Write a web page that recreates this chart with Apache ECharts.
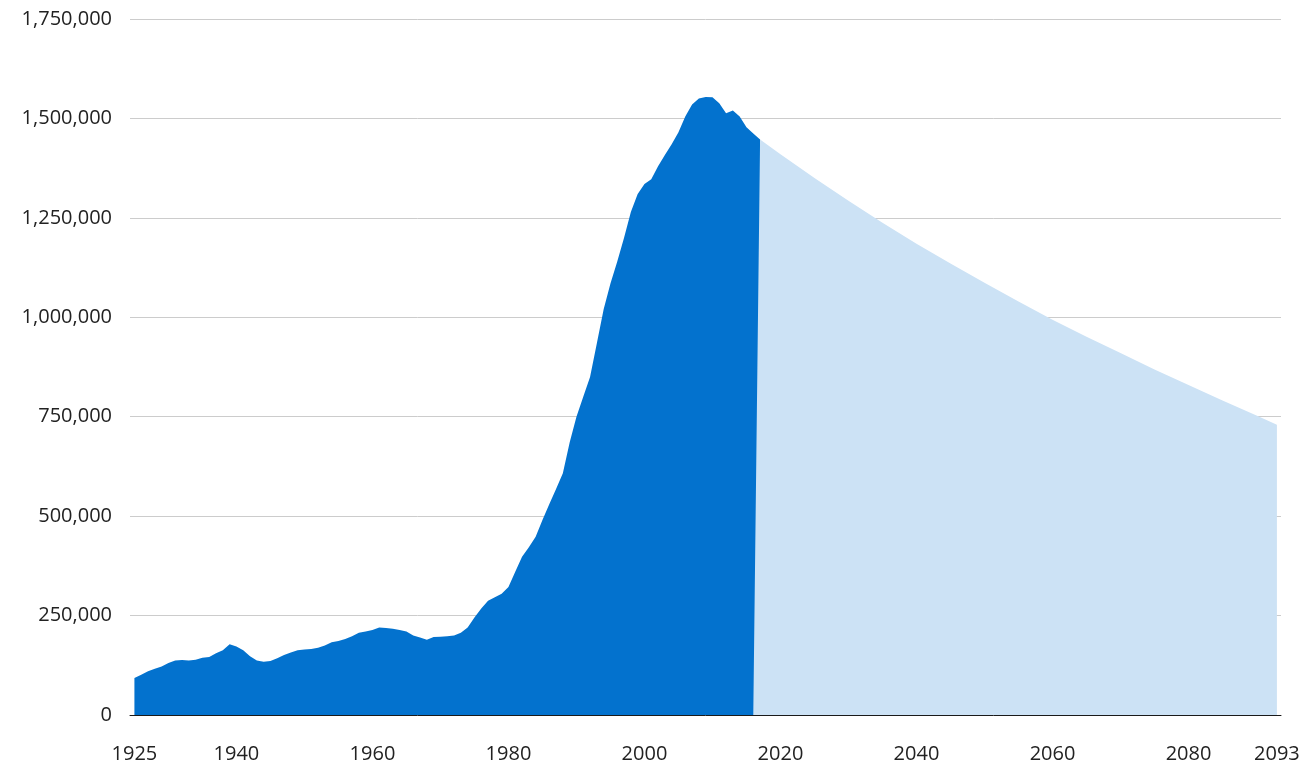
<!DOCTYPE html>
<html>
<head>
<meta charset="utf-8">
<script src="https://cdn.jsdelivr.net/npm/echarts@6/dist/echarts.min.js"></script>
<style>
html,body{margin:0;padding:0;background:#fff;}
#chart{width:1314px;height:770px;}
</style>
</head>
<body>
<div id="chart"></div>
<script>
// Historical series: one value per year, 1925 .. 2017
var histStartYear = 1925;
var histValues = [
  93000, 101000, 110000, 116000, 122000, 131000, 137000, 138000, 137000, 139000,
  144000, 146000, 155000, 163000, 178000, 172000, 163000, 148000, 137000, 134000,
  136000, 143000, 151000, 157000, 163000, 165000, 166000, 169000, 175000, 183000,
  186000, 191000, 198000, 207000, 210000, 214000, 220000, 219000, 217000, 214000,
  210000, 200000, 195000, 189000, 196000, 197000, 198000, 200000, 207000, 220000,
  245000, 268000, 287000, 296000, 305000, 322000, 360000, 398000, 422000, 448000,
  490000, 530000, 568000, 608000, 685000, 750000, 800000, 850000, 935000, 1020000,
  1085000, 1140000, 1200000, 1265000, 1310000, 1335000, 1347000, 1380000, 1408000, 1435000,
  1465000, 1505000, 1535000, 1550000, 1554000, 1553000, 1538000, 1513000, 1520000, 1505000,
  1478000, 1462000, 1447000
];

// Projection series
var projYears  = [2016, 2017, 2020, 2025, 2030, 2035, 2040, 2045, 2050, 2055, 2060, 2065, 2070, 2075, 2080, 2085, 2090, 2093];
var projValues = [0, 1447000, 1410000, 1350000, 1293000, 1238000, 1185000, 1135000, 1087000, 1040000, 994000, 951000, 910000, 869000, 830000, 791000, 753000, 730000];

// Axis labels
var xTickYears = [1925, 1940, 1960, 1980, 2000, 2020, 2040, 2060, 2080, 2093];

var histData = histValues.map(function (v, i) { return [histStartYear + i, v]; });
var projData = projYears.map(function (y, i) { return [y, projValues[i]]; });

var chart = echarts.init(document.getElementById('chart'));
var font = 'Open Sans, Noto Sans, sans-serif';
chart.setOption({
  animation: false,
  grid: { left: 130, right: 33, top: 19, bottom: 55 },
  xAxis: {
    type: 'value',
    min: 1924.35,
    max: 2093.6,
    splitLine: { show: false },
    axisTick: { show: false },
    axisLine: { show: true, lineStyle: { color: '#1a1a1a', width: 1 } },
    axisLabel: {
      customValues: xTickYears,
      formatter: function (v) { return String(Math.round(v)); },
      color: '#222',
      fontFamily: font,
      fontSize: 20,
      margin: 29
    }
  },
  yAxis: {
    type: 'value',
    min: 0,
    max: 1750000,
    interval: 250000,
    axisLine: { show: false },
    axisTick: { show: false },
    splitLine: { lineStyle: { color: '#cccccc', width: 1 } },
    axisLabel: {
      color: '#222',
      fontFamily: font,
      fontSize: 20,
      margin: 18,
      formatter: function (v) { return v.toLocaleString('en-US'); }
    }
  },
  series: [
    {
      type: 'line',
      data: histData,
      showSymbol: false,
      symbol: 'none',
      lineStyle: { width: 0 },
      areaStyle: { color: '#0372ce', opacity: 1 },
      z: 2
    },
    {
      type: 'line',
      data: projData,
      showSymbol: false,
      symbol: 'none',
      lineStyle: { width: 0 },
      areaStyle: { color: '#cce2f5', opacity: 1 },
      z: 3
    }
  ]
});
</script>
</body>
</html>
